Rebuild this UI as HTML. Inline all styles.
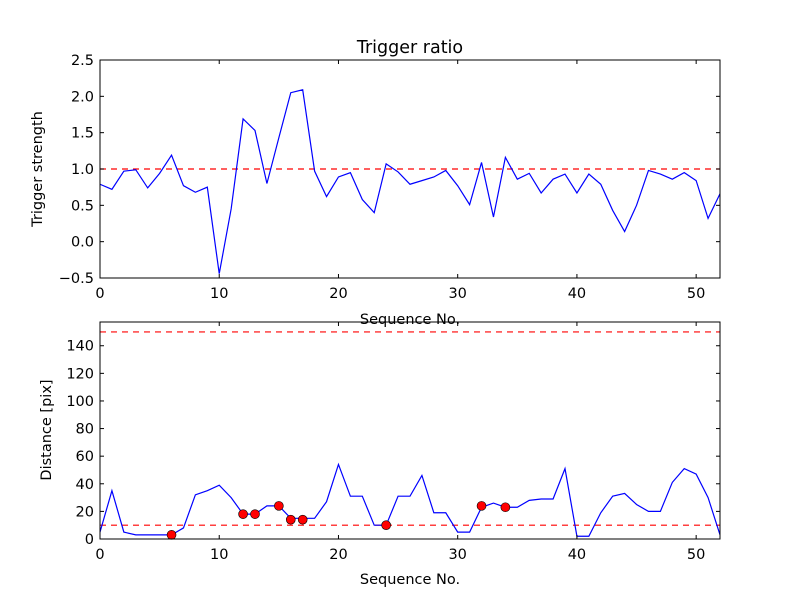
<!DOCTYPE html>
<html><head><meta charset="utf-8"><style>body{margin:0;background:#fff}svg{display:block;font-family:"DejaVu Sans","Liberation Sans",sans-serif}</style></head>
<body>
<svg id="c" width="800" height="600"></svg>
<script>
const xs1 = [...Array(53).keys()];
const ratio = [0.79,0.72,0.97,0.99,0.74,0.94,1.19,0.77,0.68,0.75,-0.44,0.45,1.69,1.53,0.80,1.43,2.05,2.09,0.97,0.62,0.89,0.95,0.58,0.40,1.07,0.96,0.79,0.84,0.89,0.98,0.77,0.51,1.09,0.34,1.16,0.86,0.94,0.67,0.86,0.93,0.67,0.93,0.79,0.43,0.14,0.50,0.98,0.93,0.86,0.95,0.84,0.32,0.66];
const dist = [5,35,5,3,3,3,3,8,32,35,39,30,18,18,24,24,15,15,15,27,54,31,31,10,10,31,31,46,19,19,5,5,23,26,23,23,28,29,29,51,2,2,19,31,33,25,20,20,41,51,47,30,3];
const markX = [6,12,13,15,16,17,24,32,34];
const markY = [3,18,18,24,14,14,10,24,23];
const xTicks = [0,10,20,30,40,50];
const yTicks1 = [-0.5,0,0.5,1,1.5,2,2.5];
const yTicks2 = [0,20,40,60,80,100,120,140];
const thr1 = 1.0, thrLo = 10, thrHi = 150;

const svg = document.getElementById('c');
const NS = 'http://www.w3.org/2000/svg';
function el(t, a, txt){const e=document.createElementNS(NS,t);for(const k in a)e.setAttribute(k,a[k]);if(txt!==undefined)e.textContent=txt;svg.appendChild(e);return e;}
const L=100,R=720;
const sx = v => L + (v-0)/(52-0)*(R-L);
const sy1 = v => 278 - (v+0.5)/3*(278-60);
const sy2 = v => 539 - v/157.2*(539-322);

function axes(top,bot,sy,yt,fmt,name){
  const f=el('rect',{x:L,y:top,width:R-L,height:bot-top,fill:'none',stroke:'#000','stroke-width':1});
  
  
  xTicks.forEach(t=>{const x=sx(t);
    el('line',{x1:x,y1:bot,x2:x,y2:bot-4,stroke:'#000'});el('line',{x1:x,y1:top,x2:x,y2:top+4,stroke:'#000'});
    const tx=el('text',{x:x,y:bot+20,'font-size':14.5,'text-anchor':'middle'},t);
    
    });
  yt.forEach(t=>{const y=sy(t);
    el('line',{x1:L,y1:y,x2:L+4,y2:y,stroke:'#000'});el('line',{x1:R,y1:y,x2:R-4,y2:y,stroke:'#000'});
    const tx=el('text',{x:L-6,y:y+5,'font-size':14.5,'text-anchor':'end'},fmt(t));
    
    });
}
const t=el('text',{x:410,y:53,'font-size':17.5,'text-anchor':'middle'},'Trigger ratio');


let h=el('line',{x1:L,y1:sy1(thr1),x2:R,y2:sy1(thr1),stroke:'red','stroke-dasharray':'6,5','stroke-width':1.2});


let p=el('polyline',{points:ratio.map((v,i)=>sx(xs1[i])+','+sy1(v)).join(' '),fill:'none',stroke:'blue','stroke-width':1.2});


axes(60,278,sy1,yTicks1,v=>v.toFixed(1).replace('-','\u2212'),'top-axes');
let a=el('text',{x:410,y:324,'font-size':14.5,'text-anchor':'middle'},'Sequence No.');


a=el('text',{x:42,y:169,'font-size':14.5,'text-anchor':'middle',transform:'rotate(-90 42 169)'},'Trigger strength');


[thrLo,thrHi].forEach(v=>{const l=el('line',{x1:L,y1:sy2(v),x2:R,y2:sy2(v),stroke:'red','stroke-dasharray':'6,5','stroke-width':1.2});

});
p=el('polyline',{points:dist.map((v,i)=>sx(xs1[i])+','+sy2(v)).join(' '),fill:'none',stroke:'blue','stroke-width':1.2});


markX.forEach((x,i)=>{const c=el('circle',{cx:sx(x),cy:sy2(markY[i]),r:4.5,fill:'red',stroke:'#000','stroke-width':0.6});

});
axes(322,539,sy2,yTicks2,v=>String(v),'bottom-axes');
a=el('text',{x:410,y:584,'font-size':14.5,'text-anchor':'middle'},'Sequence No.');


a=el('text',{x:51,y:430,'font-size':14.5,'text-anchor':'middle',transform:'rotate(-90 51 430)'},'Distance [pix]');


</script>
</body></html>
